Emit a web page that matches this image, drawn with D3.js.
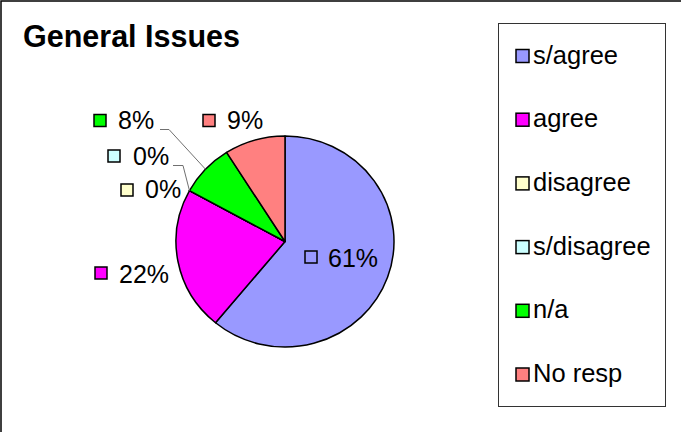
<!DOCTYPE html>
<html>
<head>
<meta charset="utf-8">
<script src="https://cdn.jsdelivr.net/npm/d3@7"></script>
<style>
  html, body { margin: 0; padding: 0; background: #fff; }
  svg { display: block; }
  text { font-family: "Liberation Sans", Arial, sans-serif; fill: #000; }
</style>
</head>
<body>
<svg id="chart" width="681" height="432"></svg>
<script>
// Survey responses for "General Issues" (percent of respondents)
const categories = ["s/agree", "agree", "disagree", "s/disagree", "n/a", "No resp"];
const values = [61, 22, 0, 0, 8, 9];
const colors = ["#9999FF", "#FF00FF", "#FFFFCC", "#CCFFFF", "#00FF00", "#FF8080"];
const title = "General Issues";

// Data label placement: key box top-left (x, y) and text baseline per slice
const labelLayout = [
  { kx: 305, ky: 251, tx: 328, ty: 267 },
  { kx: 95,  ky: 267, tx: 119, ty: 283 },
  { kx: 121, ky: 184, tx: 145, ty: 198 },
  { kx: 108, ky: 150, tx: 133, ty: 164.5 },
  { kx: 94,  ky: 114.5, tx: 118, ty: 128.5 },
  { kx: 203, ky: 114.5, tx: 227, ty: 128.5 }
];
// Leader lines: start point (elbow runs horizontally, then to slice edge)
const leaders = [
  null, null, null,
  { x0: 173, x1: 183, y: 165.5, at: "start" },
  { x0: 160, x1: 169, y: 129.5, at: "mid" },
  null
];

const svg = d3.select("#chart");

// Outer chart frame (extends past the right and bottom of the view)
svg.append("rect")
  .attr("x", 1).attr("y", 1)
  .attr("width", 700).attr("height", 460)
  .attr("fill", "#fff").attr("stroke", "#000").attr("stroke-width", 1.5);

svg.append("text")
  .attr("x", 23).attr("y", 47)
  .attr("font-size", 30.5).attr("font-weight", "bold")
  .text(title);

// Pie geometry (slightly wider than tall)
const cx = 285, cy = 241.5, rx = 109, ry = 105.5;
const pie = d3.pie().sort(null).value(d => d)(values);
const arc = d3.arc().innerRadius(0).outerRadius(ry);

const g = svg.append("g")
  .attr("transform", `translate(${cx},${cy}) scale(${rx / ry},1)`);

g.selectAll("path")
  .data(pie)
  .join("path")
  .attr("d", arc)
  .attr("fill", (d, i) => colors[i])
  .attr("stroke", "#000")
  .attr("stroke-width", 1.5)
  .attr("vector-effect", "non-scaling-stroke")
  .attr("stroke-linejoin", "round");

const edgePoint = a => [cx + rx * Math.sin(a), cy - ry * Math.cos(a)];

// Leader lines
leaders.forEach((l, i) => {
  if (!l) return;
  const p = pie[i];
  const a = l.at === "start" ? p.startAngle : (p.startAngle + p.endAngle) / 2;
  const [ex, ey] = edgePoint(a);
  svg.append("path")
    .attr("d", d3.line()([[l.x0, l.y], [l.x1, l.y], [ex, ey]]))
    .attr("fill", "none")
    .attr("stroke", "#707070")
    .attr("stroke-width", 1);
});

// Data labels with legend keys
const fmt = v => d3.format(".0%")(v / d3.sum(values));
const labels = svg.append("g");
pie.forEach((p, i) => {
  const L = labelLayout[i];
  labels.append("rect")
    .attr("x", L.kx).attr("y", L.ky)
    .attr("width", 12).attr("height", 12)
    .attr("fill", colors[i]).attr("stroke", "#000").attr("stroke-width", 1.5);
  labels.append("text")
    .attr("x", L.tx).attr("y", L.ty)
    .attr("font-size", 25)
    .text(fmt(values[i]));
});

// Legend
const legend = svg.append("g");
legend.append("rect")
  .attr("x", 498.5).attr("y", 23.5)
  .attr("width", 167).attr("height", 383)
  .attr("fill", "#fff").attr("stroke", "#333").attr("stroke-width", 1);

const rowY = d3.scalePoint().domain(categories).range([63.5, 382]);
categories.forEach((c, i) => {
  const y = rowY(c);
  legend.append("rect")
    .attr("x", 516).attr("y", y - 14)
    .attr("width", 13).attr("height", 13)
    .attr("fill", colors[i]).attr("stroke", "#000").attr("stroke-width", 1.5);
  legend.append("text")
    .attr("x", 533).attr("y", y)
    .attr("font-size", 25.5)
    .text(c);
});
</script>
</body>
</html>
